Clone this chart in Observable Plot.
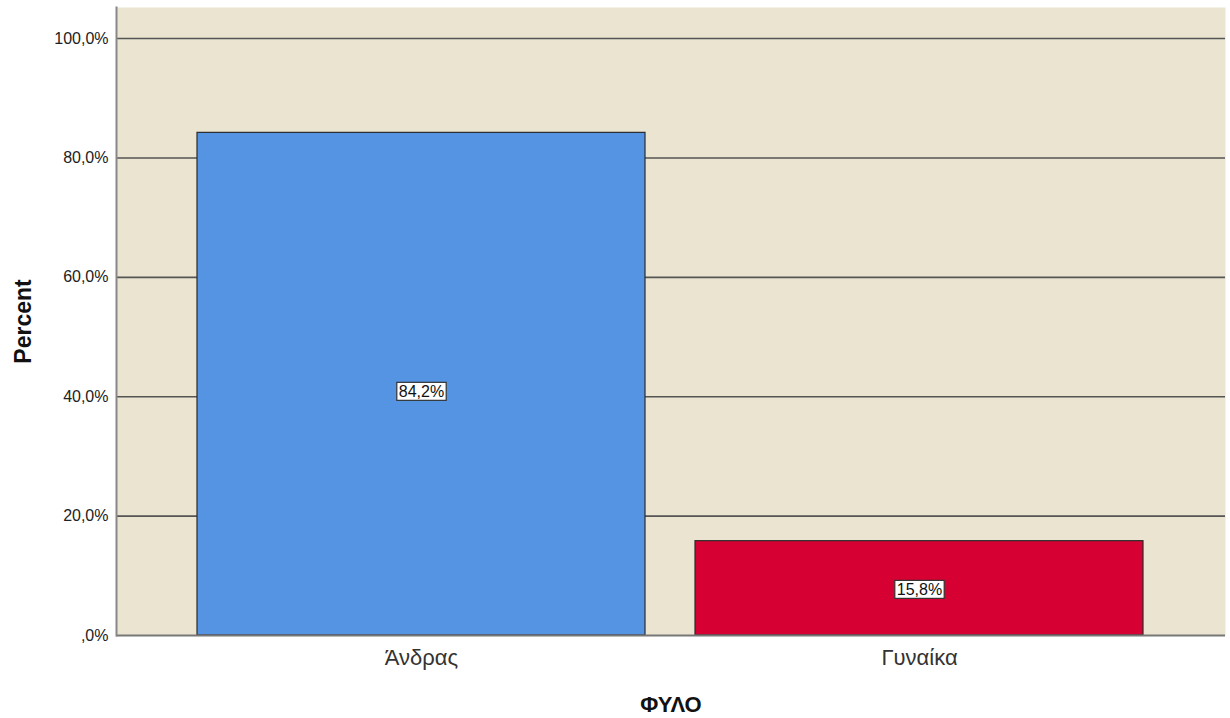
<!DOCTYPE html>
<html><head><meta charset="utf-8">
<script src="https://cdn.jsdelivr.net/npm/d3@7"></script>
<script src="https://cdn.jsdelivr.net/npm/@observablehq/plot@0.6"></script>
<style>
body{margin:0;background:#fff;font-family:"Liberation Sans",Arial,sans-serif;}
</style></head>
<body><div id="chart"></div>
<script>
const categories = ["Άνδρας", "Γυναίκα"];
const percents = [84.2, 15.8];
const barColors = ["#5594E3", "#D70032"];
const yTicks = [0, 20, 40, 60, 80, 100];

const data = categories.map((c, i) => ({cat: c, pct: percents[i], color: barColors[i]}));
const fmtTick = d => d === 0 ? ",0%" : d.toFixed(1).replace(".", ",") + "%";
const fmtLbl = d => d.toFixed(1).replace(".", ",") + "%";

const chart = Plot.plot({
  width: 1230, height: 718,
  marginLeft: 116, marginRight: 5, marginTop: 7, marginBottom: 83,
  style: {fontFamily: "'Liberation Sans', Arial, sans-serif", background: "#fff"},
  x: {domain: categories, paddingInner: 0.1, paddingOuter: 0.162, label: null},
  y: {domain: [0, 105.2], label: null},
  marks: [
    Plot.frame({fill: "#EAE4D0", stroke: null}),
    Plot.ruleY(yTicks.filter(d => d > 0), {stroke: "#555", strokeWidth: 1.6}),
    Plot.barY(data, {x: "cat", y: "pct", fill: "color", stroke: "#2b2b2b", strokeWidth: 1.2}),
    Plot.ruleY([0], {stroke: "#777", strokeWidth: 2}),
    Plot.frame({anchor: "left", stroke: "#888", strokeWidth: 2}),
    Plot.axisY({ticks: yTicks, tickFormat: fmtTick, tickSize: 0, tickPadding: 8, fontSize: 16, fill: "#222", label: null}),
    Plot.axisX({tickSize: 0, tickPadding: 14, fontSize: 22, fill: "#333", label: null}),
    Plot.text(data, {x: "cat", y: d => d.pct * 0.485, text: d => fmtLbl(d.pct), fontSize: 16, fill: "#111", className: "barlabel"}),
    Plot.text(["Percent"], {frameAnchor: "left", dx: -93, rotate: -90, textAnchor: "middle", fontSize: 23, fontWeight: "bold", fill: "#111"}),
    Plot.text(["ΦΥΛΟ"], {frameAnchor: "bottom", dy: 76, fontSize: 22, fontWeight: "bold", fill: "#111"})
  ]
});
document.getElementById("chart").appendChild(chart);
// white boxes behind the bar labels
d3.select(chart).selectAll("g.barlabel text").each(function() {
  const b = this.getBBox();
  d3.select(this.parentNode).insert("rect", () => this)
    .attr("x", b.x - 2).attr("y", b.y - 0.5).attr("width", b.width + 4).attr("height", b.height + 1)
    .attr("fill", "#fff").attr("stroke", "#333").attr("stroke-width", 1.2)
    .attr("transform", this.getAttribute("transform"));
});
</script></body></html>
